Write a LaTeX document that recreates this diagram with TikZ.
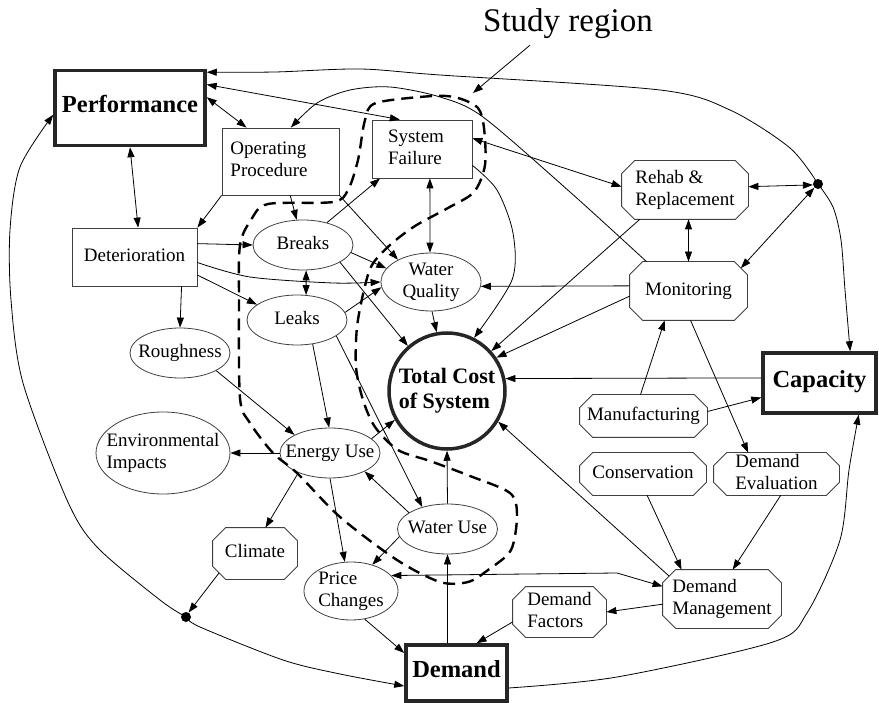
\documentclass[tikz,border=0pt]{standalone}
\usepackage{fontspec}
\setmainfont{Liberation Serif}
\usetikzlibrary{shapes.geometric,arrows.meta}
\newcommand{\Lbl}[2][0pt]{\makebox[0pt]{\hspace*{#1}\raisebox{-.5ex}[0pt][0pt]{\begin{tabular}{@{}l@{}}#2\end{tabular}}}}
\newcommand{\CLbl}[1]{\makebox[0pt]{\raisebox{-.5ex}[0pt][0pt]{\begin{tabular}{@{}c@{}}#1\end{tabular}}}}
\tikzset{
  BaseStyle/.style = {draw=black!75, line width=0.8pt, inner sep=0pt, font=\fontsize{19}{22}\selectfont},
  BoxStyle/.style = {BaseStyle, rectangle},
  OctLine/.style = {draw=black!75, line width=0.8pt},
  OctStyle/.style = {BaseStyle, rectangle, draw=none,
    append after command={\pgfextra{\draw[OctLine]
      ([xshift=13pt]\tikzlastnode.north west) -- ([xshift=-13pt]\tikzlastnode.north east)
      -- ([yshift=-13pt]\tikzlastnode.north east) -- ([yshift=13pt]\tikzlastnode.south east)
      -- ([xshift=-13pt]\tikzlastnode.south east) -- ([xshift=13pt]\tikzlastnode.south west)
      -- ([yshift=13pt]\tikzlastnode.south west) -- ([yshift=-13pt]\tikzlastnode.north west) -- cycle;}}},
  EllStyle/.style = {BaseStyle, ellipse},
  MainStyle/.style = {BaseStyle, draw=black!85, line width=3.5pt, font=\fontsize{24.5}{27}\selectfont\bfseries},
  DotStyle/.style = {circle, fill, inner sep=0pt, minimum size=10pt},
  EdgeStyle/.style = {line width=0.8pt, -{Triangle[length=10pt,width=7pt]}},
  BothStyle/.style = {line width=0.8pt, {Triangle[length=10pt,width=7pt]}-{Triangle[length=10pt,width=7pt]}},
  StudyStyle/.style = {line width=2.4pt, dash pattern=on 12pt off 7pt}
}
\begin{document}
\begin{tikzpicture}[x=1pt,y=-1pt]
  \useasboundingbox (0,0) rectangle (879,703);
  \node[MainStyle, minimum width=150pt, minimum height=75pt] (perf) at (130,108) {\Lbl{Performance}};
  \node[BoxStyle, minimum width=117pt, minimum height=67pt] (oper) at (280.5,161.5) {\Lbl[-23pt]{Operating\\Procedure}};
  \node[BoxStyle, minimum width=100pt, minimum height=58pt] (sysf) at (422,149) {\Lbl[-12pt]{System\\Failure}};
  \node[BoxStyle, minimum width=125pt, minimum height=58pt] (detr) at (134.5,257) {\Lbl{Deterioration}};
  \node[EllStyle, minimum width=100pt, minimum height=50pt] (brks) at (303,245) {\Lbl{Breaks}};
  \node[EllStyle, minimum width=100pt, minimum height=58pt] (wq) at (431,282) {\CLbl{Water\\Quality}};
  \node[EllStyle, minimum width=100pt, minimum height=50pt] (leak) at (297,320) {\Lbl{Leaks}};
  \node[EllStyle, minimum width=100pt, minimum height=50pt] (rough) at (180,353) {\Lbl{Roughness}};
  \node[EllStyle, minimum width=134pt, minimum height=82pt] (env) at (163,453) {\Lbl{Environmental\\Impacts}};
  \node[EllStyle, minimum width=100pt, minimum height=50pt] (energy) at (330,453) {\Lbl{Energy Use}};
  \node[MainStyle, circle, minimum size=116pt, font=\fontsize{22}{25}\selectfont\bfseries] (tc) at (447,391) {\Lbl{Total Cost\\of System}};
  \node[OctStyle, minimum width=117pt, minimum height=58pt] (mon) at (688.5,291) {\Lbl{Monitoring}};
  \node[OctStyle, minimum width=126pt, minimum height=58pt] (rehab) at (685,190) {\Lbl{Rehab \&\\Replacement}};
  \node[DotStyle] (dotR) at (818,184) {};
  \node[MainStyle, minimum width=113pt, minimum height=60pt] (cap) at (819.5,383) {\Lbl{Capacity}};
  \node[OctStyle, minimum width=127pt, minimum height=42pt] (manu) at (643.5,416) {\Lbl{Manufacturing}};
  \node[OctStyle, minimum width=126pt, minimum height=42pt] (cons) at (643,474) {\Lbl{Conservation}};
  \node[OctStyle, minimum width=125pt, minimum height=42pt] (deval) at (776.5,474) {\Lbl{Demand\\Evaluation}};
  \node[OctStyle, minimum width=118pt, minimum height=58pt] (dman) at (722,599) {\Lbl{Demand\\Management}};
  \node[OctStyle, minimum width=93pt, minimum height=50pt] (dfac) at (559.5,612) {\Lbl{Demand\\Factors}};
  \node[MainStyle, minimum width=101pt, minimum height=56pt] (dem) at (456.5,673) {\Lbl{Demand}};
  \node[EllStyle, minimum width=100pt, minimum height=50pt] (wuse) at (447.5,529) {\Lbl{Water Use}};
  \node[EllStyle, minimum width=94pt, minimum height=58pt] (price) at (351,591) {\Lbl{Price\\Changes}};
  \node[OctStyle, minimum width=84pt, minimum height=51pt] (clim) at (255,553.5) {\Lbl{Climate}};
  \node[DotStyle] (dotL) at (186,617) {};
  \node[inner sep=0pt, font=\fontsize{33}{36}\selectfont] (study) at (568,24) {Study region};
  \coordinate (srhead) at (473,93);

  \draw[StudyStyle] plot[smooth cycle] coordinates {(433,96) (458,98) (478,108) (484,128) (485,165)
    (474,192) (448,208) (415,226) (390,245) (372,265) (364,290) (357,327) (356,367) (363,400)
    (375,427) (398,450) (430,461) (470,476) (510,493) (517,515) (511,550) (488,570) (468,582)
    (440,582) (397,560) (340,517) (297,473) (273,453) (250,423) (240,398) (239,300) (240,245)
    (251,220) (268,204) (333,202) (348,190) (358,160) (365,120) (376,103)};
  \draw[EdgeStyle] ([xshift=-38pt,yshift=-6pt]study.south) -- (srhead);

  \draw[BothStyle] (perf.8) -- (oper.135);
  \draw[BothStyle] (perf.south) -- (detr.83);
  \draw[BothStyle] (perf.17) -- (sysf.127);
  \draw[EdgeStyle] plot[smooth] coordinates {(dotR) (790,148) (730,110) (660,90) (440,75) (360,69) (275,72) (perf.25)};
  \draw[EdgeStyle] plot[smooth] coordinates {(mon.145) (570,192) (483,117) (440,97) (390,87) (350,90) (317,103) (oper.73)};
  \draw[BothStyle] (sysf.12) -- (rehab.177);
  \draw[EdgeStyle] (oper.south west) -- (detr.north east);
  \draw[EdgeStyle] (oper.-74) -- (brks.104);
  \draw[EdgeStyle] (oper.south east) -- (wq.146);
  \draw[EdgeStyle] (brks.43) -- (sysf.215);
  \draw[EdgeStyle] (brks.-9) -- (wq.163);
  \draw[BothStyle] (brks.-83) -- (leak.70);
  \draw[EdgeStyle] (brks.-25) -- (tc.131);
  \draw[BothStyle] (sysf.-75) -- (wq.92);
  \draw[EdgeStyle] plot[smooth] coordinates {(sysf.-18) (497,190) (513,233) (512,280) (tc.63)};
  \draw[EdgeStyle] (wq.-88) -- (tc.100);
  \draw[EdgeStyle] (detr.12) -- (brks.west);
  \draw[EdgeStyle] plot[smooth] coordinates {(detr.-5) (250,277) (333,283) (wq.west)};
  \draw[EdgeStyle] (detr.-16) -- (leak.159);
  \draw[EdgeStyle] (detr.-32) -- (rough.north);
  \draw[EdgeStyle] (leak.9) -- (wq.186);
  \draw[EdgeStyle] (leak.-57) -- (energy.92);
  \draw[EdgeStyle] (leak.-22) -- (wuse.139);
  \draw[EdgeStyle] (rough.-26) -- (energy.153);
  \draw[EdgeStyle] (energy.west) -- (env.east);
  \draw[EdgeStyle] (energy.19) -- (tc.209);
  \draw[EdgeStyle] (wuse.157) -- (energy.-28);
  \draw[EdgeStyle] (energy.212) -- (clim.68);
  \draw[EdgeStyle] (energy.south) -- (price.102);
  \draw[EdgeStyle] (wuse.189) -- (price.51);
  \draw[EdgeStyle] (wuse.north) -- (tc.south);
  \draw[EdgeStyle] (dem.north -| wuse.south) -- (wuse.south);
  \draw[BothStyle] (price.21) -- (617,573) -- (dman.168);
  \draw[EdgeStyle] (price.-64) -- (dem.159);
  \draw[EdgeStyle] (dfac.192) -- (dem.56);
  \draw[EdgeStyle] (dman.185) -- (dfac.east);
  \draw[EdgeStyle] (cons.-79) -- (dman.144);
  \draw[EdgeStyle] (deval.-79) -- (dman.70);
  \draw[EdgeStyle] ([xshift=6.5pt,yshift=-6.5pt]dman.north west) -- (tc.-31);
  \draw[EdgeStyle] (mon.175) -- (wq.-5);
  \draw[EdgeStyle] (mon.185) -- (tc.34);
  \draw[EdgeStyle] (rehab.213) -- (tc.42);
  \draw[BothStyle] (mon.north |- rehab.south) -- (mon.north);
  \draw[BothStyle] (rehab.3) -- (dotR.190);
  \draw[BothStyle] ([xshift=-6.5pt,yshift=-6.5pt]mon.north east) -- (dotR.225);
  \draw[EdgeStyle] plot[smooth] coordinates {(dotR) (833,207) (841,240) (845,290) (cap.46)};
  \draw[EdgeStyle] (cap.175) -- (tc.12);
  \draw[EdgeStyle] (manu.4) -- (cap.194);
  \draw[EdgeStyle] (manu.98) -- (mon.231);
  \draw[EdgeStyle] (mon.-86) -- (deval.143);
  \draw[EdgeStyle] plot[smooth] coordinates {(dem.-16) (617,677) (773,642) (807,613) (840,540) (849,470) (cap.-39)};
  \draw[EdgeStyle] ([xshift=6.5pt,yshift=6.5pt]clim.south west) -- (dotL.60);
  \draw[EdgeStyle] plot[smooth] coordinates {(dotL) (200,627) (283,660) (340,674) (dem.194)};
  \draw[EdgeStyle] plot[smooth] coordinates {(dotL) (160,600) (97,547) (67,500) (23,383) (11,300) (10,230) (20,167) (perf.185)};
\end{tikzpicture}
\end{document}
